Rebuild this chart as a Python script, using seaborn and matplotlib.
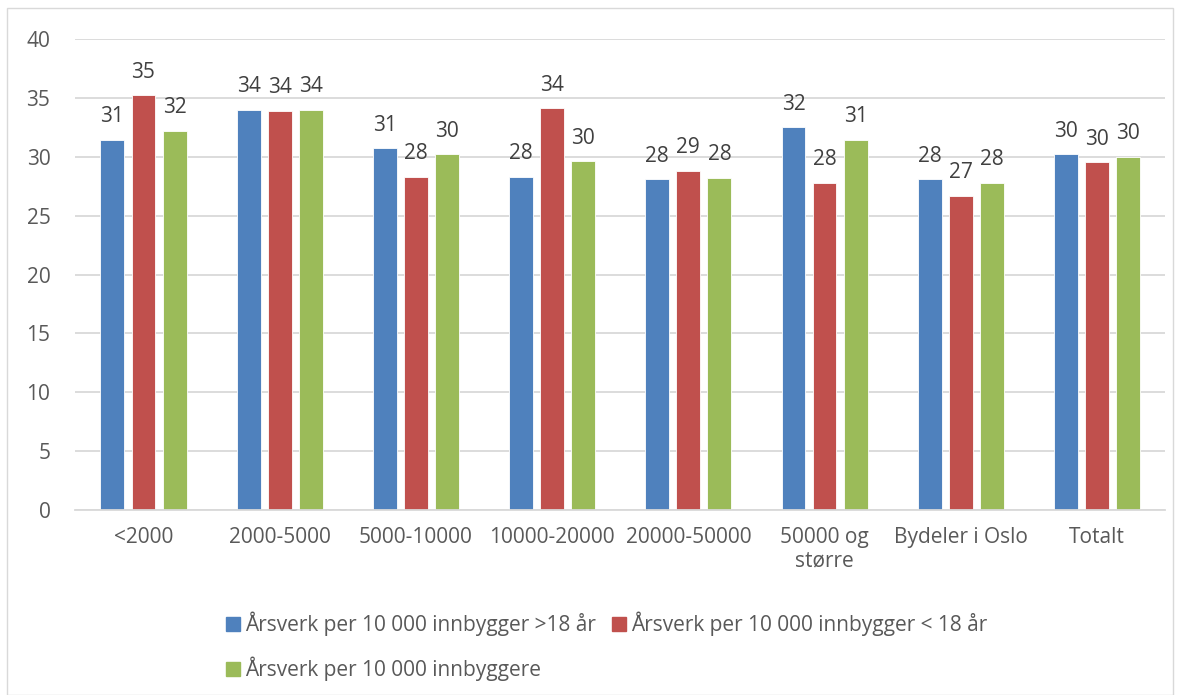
import pandas as pd
import matplotlib.pyplot as plt
import matplotlib.patches as mpatches
import seaborn as sns

categories = ['<2000', '2000-5000', '5000-10000', '10000-20000', '20000-50000',
              '50000 og\nstørre', 'Bydeler i Oslo', 'Totalt']
series = ['Årsverk per 10 000 innbygger >18 år',
          'Årsverk per 10 000 innbygger < 18 år',
          'Årsverk per 10 000 innbyggere']
over18 = [31.45, 34.0, 30.7, 28.3, 28.1, 32.5, 28.1, 30.2]
under18 = [35.2, 33.9, 28.3, 34.1, 28.8, 27.8, 26.7, 29.55]
total = [32.2, 34.0, 30.2, 29.6, 28.2, 31.45, 27.8, 30.0]
colors = ['#4F81BD', '#C0504D', '#9BBB59']

df = pd.DataFrame({
    'kategori': categories * 3,
    'serie': [series[0]] * 8 + [series[1]] * 8 + [series[2]] * 8,
    'verdi': over18 + under18 + total,
})

sns.set_style('white')
plt.rcParams['font.family'] = ['Open Sans', 'DejaVu Sans']
fs = 15

fig = plt.figure(figsize=(11.78, 6.95), dpi=100)
ax = fig.add_axes([0.064, 0.266, 0.925, 0.678])

sns.barplot(data=df, x='kategori', y='verdi', hue='serie', palette=colors,
            width=0.684, gap=0.23, ax=ax, legend=False, saturation=1,
            edgecolor='white', linewidth=0.6)

for cont in ax.containers:
    ax.bar_label(cont, fmt='%.0f', padding=9, fontsize=fs, color='#404040')

ax.set_ylim(0, 40)
ax.set_yticks(range(0, 41, 5))
ax.set_xlim(-0.5, 7.5)
ax.set_xlabel('')
ax.set_ylabel('')
ax.grid(axis='y', color='#D9D9D9', linewidth=1.3)
ax.set_axisbelow(True)
for s in ['top', 'right', 'left']:
    ax.spines[s].set_visible(False)
ax.spines['bottom'].set_color('#D9D9D9')
ax.spines['bottom'].set_linewidth(1.3)
ax.tick_params(axis='both', length=0, labelsize=fs, colors='#595959')
ax.tick_params(axis='x', pad=12)
ax.tick_params(axis='y', pad=18)

handles = [mpatches.Patch(color=c) for c in colors]
order = [0, 2, 1]
fig.legend([handles[i] for i in order], [series[i] for i in order],
           ncol=2, loc='upper left', bbox_to_anchor=(0.176, 0.147),
           frameon=False, fontsize=fs, labelcolor='#595959',
           handlelength=0.68, handleheight=0.68, handletextpad=0.25,
           columnspacing=0.75, labelspacing=1.0)

fig.patches.append(mpatches.Rectangle((0.006, 0.0), 0.99, 0.988, transform=fig.transFigure,
                                      fill=False, edgecolor='#D9D9D9', linewidth=1))

fig.savefig('out.png', dpi=100)
